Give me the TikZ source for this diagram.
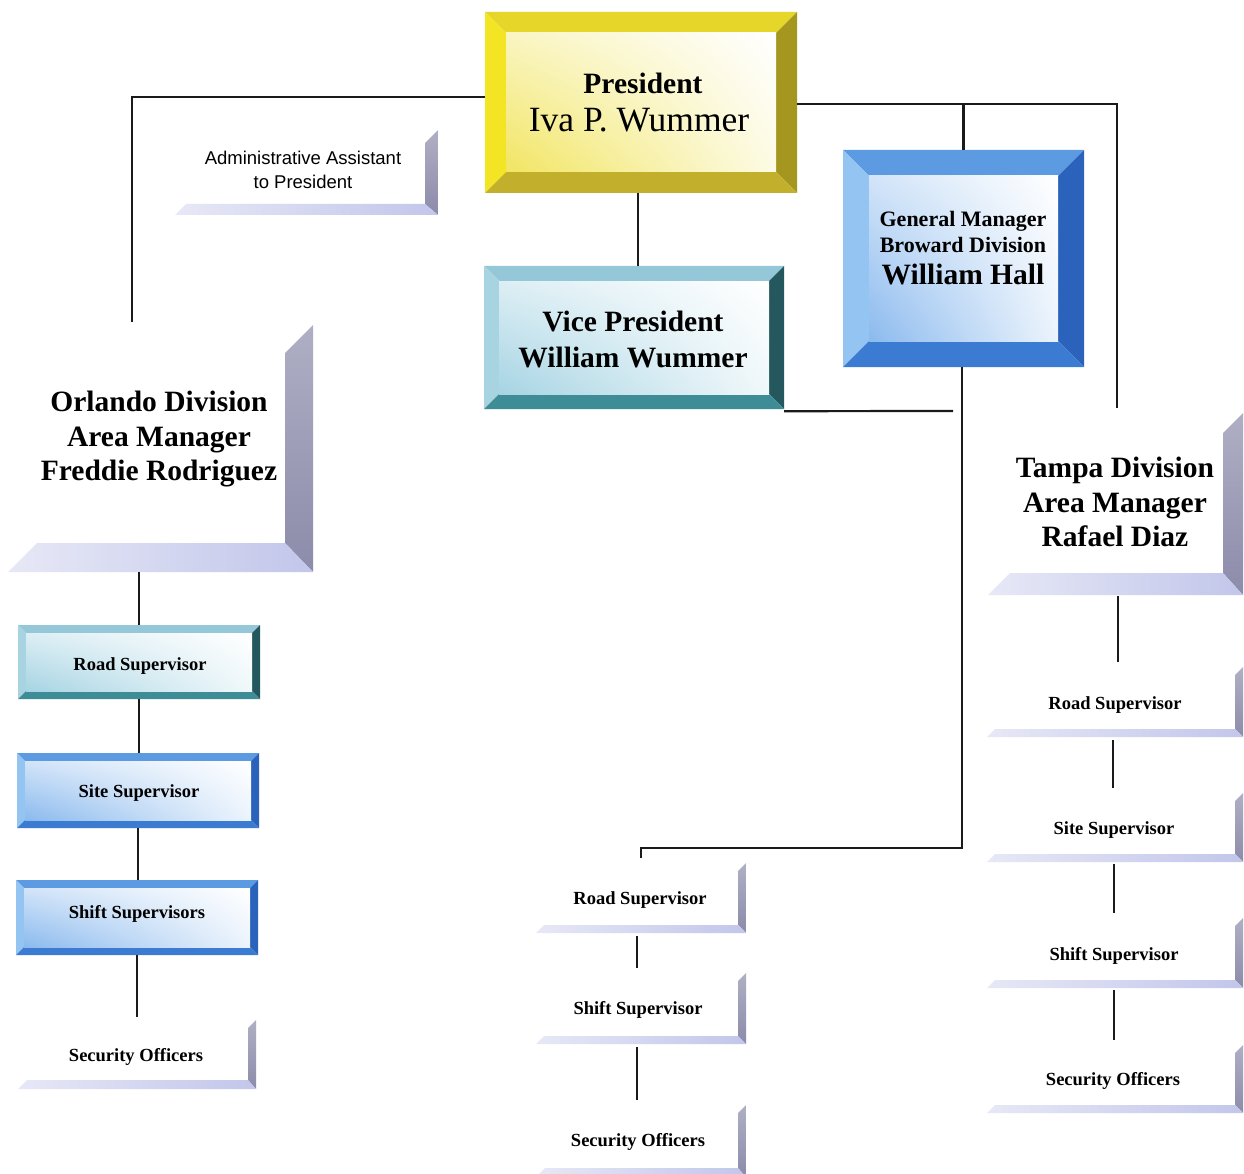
\documentclass[tikz,border=0pt]{standalone}
\usepackage{fontspec}
\setmainfont{Liberation Serif}
\newfontfamily\arialf{Liberation Sans}
\usetikzlibrary{fit,calc,shadings}
% yellow
\definecolor{YT}{HTML}{E6D62A}\definecolor{YL}{HTML}{F4E524}\definecolor{YR}{HTML}{A4961E}\definecolor{YB}{HTML}{C2B02C}\definecolor{YI}{HTML}{F0E250}
% teal
\definecolor{TT}{HTML}{94C8D8}\definecolor{TL}{HTML}{A8D4E2}\definecolor{TR}{HTML}{24585E}\definecolor{TB}{HTML}{3E8C96}\definecolor{TI}{HTML}{9CCFE0}
% blue
\definecolor{BT}{HTML}{5C9AE2}\definecolor{BL}{HTML}{94C4F2}\definecolor{BR}{HTML}{2A62BC}\definecolor{BB}{HTML}{3B7BD2}\definecolor{BI}{HTML}{7EB2EC}
% half frames
\definecolor{HR}{HTML}{8C8CAB}\definecolor{HB}{HTML}{C2C6EA}
\definecolor{lncol}{HTML}{1A1A1A}

\newcommand\fullframe[7]{%
  \node[fit={(#2,#3) (#4,#5)}, inner sep=0pt, draw=none] (#1) {};
  \fill[#7T] (#2,#3) -- (#4,#3) -- (#4-#6,#3+#6) -- (#2+#6,#3+#6) -- cycle;
  \fill[#7L] (#2,#3) -- (#2+#6,#3+#6) -- (#2+#6,#5-#6) -- (#2,#5) -- cycle;
  \fill[#7R] (#4,#3) -- (#4,#5) -- (#4-#6,#5-#6) -- (#4-#6,#3+#6) -- cycle;
  \fill[#7B] (#2,#5) -- (#4,#5) -- (#4-#6,#5-#6) -- (#2+#6,#5-#6) -- cycle;
  \shade[upper right=white, upper left=#7I!35!white, lower left=#7I!90!white, lower right=#7I!15!white]
    (#2+#6,#3+#6) rectangle (#4-#6,#5-#6);}

\newcommand\halfframe[7]{%
  \node[fit={(#2,#3) (#4,#5)}, inner sep=0pt, draw=none] (#1) {};
  \shade[top color=HR!70!white, bottom color=HR] (#4,#3) -- (#4,#5) -- (#4-#6,#5-#7) -- (#4-#6,#3+#6) -- cycle;
  \shade[left color=HB!40!white, right color=HB] (#2,#5) -- (#4,#5) -- (#4-#6,#5-#7) -- (#2+#7,#5-#7) -- cycle;}

\begin{document}
\begin{tikzpicture}[x=1pt,y=-1pt,
  ln/.style={line width=2.2pt, draw=lncol},
  tl/.style={inner sep=0pt, text depth=0pt, anchor=center},
  big/.style={tl, text height=20.8pt, font=\fontsize{29.5}{30}\selectfont\bfseries},
  bigr/.style={tl, text height=22.8pt, font=\fontsize{35.5}{36}\selectfont},
  midt/.style={tl, text height=16.8pt, font=\fontsize{22}{22}\selectfont\bfseries},
  sml/.style={tl, text height=12.8pt, font=\fontsize{18.5}{18.5}\selectfont\bfseries},
  admt/.style={tl, text height=12.8pt, font=\arialf\fontsize{18.5}{18.5}\selectfont}]

\fill[white] (0,0) rectangle (1244,1174);
\useasboundingbox (0,0) rectangle (1244,1174);

% ---------- frames ----------
\fullframe{pres}{485}{12}{797}{193}{21}{Y}
\halfframe{adm}{175}{130}{438}{215}{13}{11}
\fullframe{vp}{484}{266}{784}{409}{15}{T}
\fullframe{gm}{843}{150}{1084}{367}{26}{B}
\halfframe{orl}{8}{325}{313}{572}{28}{29}
\halfframe{tam}{988}{413}{1243}{595}{20}{22}

\fullframe{lrs}{18}{625}{260}{699}{8}{T}
\fullframe{lss}{17}{753}{259}{828}{8}{B}
\fullframe{lsh}{16}{880}{258}{955}{8}{B}
\halfframe{lso}{18}{1020}{256}{1089}{8}{9}

\halfframe{mrs}{536}{863}{746}{933}{8}{8}
\halfframe{msh}{536}{973}{746}{1044}{8}{8}
\halfframe{mso}{536}{1105}{746}{1177}{8}{9}

\halfframe{rrs}{987}{667}{1243}{737}{8}{8}
\halfframe{rss}{987}{793}{1243}{862}{8}{8}
\halfframe{rsh}{987}{918}{1243}{988}{8}{8}
\halfframe{rso}{987}{1045}{1243}{1113}{8}{8}

% ---------- texts ----------
\node[big]  (pres-a) at (643,83)  {President};
\node[bigr] (pres-b) at (639,120) {Iva P. Wummer};
\node[admt] (adm-a) at (303,158) {Administrative Assistant};
\node[admt] (adm-b) at (303,182) {to President};
\node[big]  (vp-a) at (633,321) {Vice President};
\node[big]  (vp-b) at (633,357) {William Wummer};
\node[midt] (gm-a) at (963,218) {General Manager};
\node[midt] (gm-b) at (963,244) {Broward Division};
\node[big]  (gm-c) at (963,274) {William Hall};
\node[big]  (orl-a) at (159,401) {Orlando Division};
\node[big]  (orl-b) at (159,436) {Area Manager};
\node[big]  (orl-c) at (159,470) {Freddie Rodriguez};
\node[big]  (tam-a) at (1115,467) {Tampa Division};
\node[big]  (tam-b) at (1115,502) {Area Manager};
\node[big]  (tam-c) at (1115,536) {Rafael Diaz};

\node[sml] (lrs-t) at (140,664)  {Road Supervisor};
\node[sml] (lss-t) at (139,791)  {Site Supervisor};
\node[sml] (lsh-t) at (137,912)  {Shift Supervisors};
\node[sml] (lso-t) at (136,1055) {Security Officers};
\node[sml] (mrs-t) at (640,898)  {Road Supervisor};
\node[sml] (msh-t) at (638,1008) {Shift Supervisor};
\node[sml] (mso-t) at (638,1140) {Security Officers};
\node[sml] (rrs-t) at (1115,703) {Road Supervisor};
\node[sml] (rss-t) at (1114,828) {Site Supervisor};
\node[sml] (rsh-t) at (1114,954) {Shift Supervisor};
\node[sml] (rso-t) at (1113,1079) {Security Officers};

% ---------- connectors ----------
\coordinate (pl) at ([yshift=5.5pt]pres.west);
\coordinate (pr) at ([yshift=-1.5pt]pres.east);
\draw[ln] (pl) -| ([xshift=-28.5pt,yshift=3pt]orl.north);
\draw[ln] (pr) -| ([xshift=1.5pt,yshift=5pt]tam.north);
\draw[ln] (gm.north) -- (gm.north |- pr);
\draw[ln] ([xshift=-3pt]pres.south) -- ([xshift=-3pt]pres.south |- vp.north);
\coordinate (vpstub) at (953,411);
\draw[ln] ([yshift=-2pt]vp.south east) -- (vpstub);
\draw[ln] ([xshift=-1.5pt]gm.south) |- ([yshift=15pt]mrs.north) -- ([yshift=5pt]mrs.north);

\draw[ln] (lrs.north) -- (lrs.north |- orl.south);
\draw[ln] (lrs.south) -- (lrs.south |- lss.north);
\draw[ln] (lss.south) -- (lss.south |- lsh.north);
\draw[ln] (lsh.south) -- ([yshift=3pt]lsh.south |- lso.north);

\draw[ln] ([xshift=2.5pt,yshift=-1pt]tam.south) -- ([xshift=2.5pt,yshift=5pt]tam.south |- rrs.north);
\draw[ln] ([xshift=-2pt,yshift=-3pt]rrs.south) -- ([xshift=-2pt,yshift=5pt]rrs.south |- rss.north);
\draw[ln] ([xshift=-1pt,yshift=-2pt]rss.south) -- ([xshift=-1pt,yshift=5pt]rss.south |- rsh.north);
\draw[ln] ([xshift=-1pt,yshift=-2pt]rsh.south) -- ([xshift=-1pt,yshift=5pt]rsh.south |- rso.north);

\draw[ln] ([xshift=-4pt,yshift=-3pt]mrs.south) -- ([xshift=-4pt,yshift=5pt]mrs.south |- msh.north);
\draw[ln] ([xshift=-4pt,yshift=-3pt]msh.south) -- ([xshift=-4pt,yshift=5pt]msh.south |- mso.north);
\end{tikzpicture}
\end{document}
